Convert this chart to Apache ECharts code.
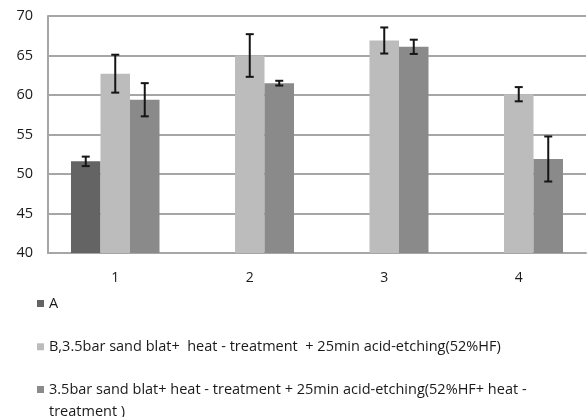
<!DOCTYPE html>
<html>
<head>
<meta charset="utf-8">
<script src="https://cdn.jsdelivr.net/npm/echarts@6/dist/echarts.min.js"></script>
<style>
  html, body { margin: 0; padding: 0; background: #fff; }
  #chart { width: 588px; height: 417px; }
</style>
</head>
<body>
<div id="chart"></div>
<script>
// Groups on the x axis
const categories = ['1', '2', '3', '4'];

// Series names (legend text)
const nameA = 'A';
const nameB = 'B,3.5bar sand blat+  heat - treatment  + 25min acid-etching(52%HF)';
const nameC = '3.5bar sand blat+ heat - treatment + 25min acid-etching(52%HF+ heat -';
const nameC2 = 'treatment )';

// Mean values (null = not measured for that group)
const valuesA = [51.6, null, null, null];
const valuesB = [62.7, 65.0, 66.9, 60.1];
const valuesC = [59.4, 61.5, 66.1, 51.9];

// Error bar half-widths (±)
const errA = [0.6, null, null, null];
const errB = [2.4, 2.7, 1.65, 0.9];
const errC = [2.1, 0.3, 0.9, 2.85];

// Y axis range
const yMin = 40, yMax = 70, yStep = 5;

const colors = ['#646464', '#bcbcbc', '#8a8a8a'];
const fontFamily = '"Open Sans", "Liberation Sans", sans-serif';
const barWidth = 29.5;

function errorData(values, errs) {
  return values.map((v, i) =>
    v == null || errs[i] == null ? [i, '-', '-'] : [i, v - errs[i], v + errs[i]]
  );
}

function errorSeries(values, errs, slot) {
  return {
    type: 'custom',
    silent: true,
    z: 10,
    data: errorData(values, errs),
    encode: { x: 0, y: [1, 2] },
    renderItem: function (params, api) {
      const lo = api.value(1), hi = api.value(2);
      if (isNaN(lo) || isNaN(hi)) return;
      const p1 = api.coord([api.value(0), hi]);
      const p2 = api.coord([api.value(0), lo]);
      const x = p1[0] + slot * barWidth;
      const cap = 4;
      const style = { stroke: '#151515', lineWidth: 2 };
      return {
        type: 'group',
        children: [
          { type: 'line', shape: { x1: x, y1: p1[1], x2: x, y2: p2[1] }, style: style },
          { type: 'line', shape: { x1: x - cap, y1: p1[1], x2: x + cap, y2: p1[1] }, style: style },
          { type: 'line', shape: { x1: x - cap, y1: p2[1], x2: x + cap, y2: p2[1] }, style: style }
        ]
      };
    }
  };
}

const chart = echarts.init(document.getElementById('chart'), null, { renderer: 'canvas' });

const legendText = { fontFamily: fontFamily, fontSize: 14.5, color: '#1a1a1a', lineHeight: 22 };

chart.setOption({
  animation: false,
  backgroundColor: '#ffffff',
  grid: { left: 48, right: 2, top: 16, height: 237, containLabel: false },
  legend: [
    {
      orient: 'vertical',
      left: 37,
      top: 292.5,
      padding: 0,
      itemWidth: 7,
      itemHeight: 7,
      itemGap: 21.3,
      icon: 'rect',
      selectedMode: false,
      data: [nameA, nameB],
      textStyle: legendText
    },
    {
      orient: 'vertical',
      left: 37,
      top: 356.5,
      padding: 0,
      itemWidth: 7,
      itemHeight: 7,
      icon: 'rect',
      selectedMode: false,
      data: [nameC],
      // leading blank line keeps the marker level with the first line of text
      formatter: function (n) { return ' \n' + n + '\n' + nameC2; },
      textStyle: legendText
    }
  ],
  xAxis: {
    type: 'category',
    data: categories,
    axisLine: { show: true, lineStyle: { color: '#a6a6a6', width: 2 } },
    axisTick: { show: false },
    axisLabel: { margin: 18, fontFamily: fontFamily, fontSize: 14, color: '#1a1a1a' },
    splitLine: { show: false }
  },
  yAxis: {
    type: 'value',
    min: yMin,
    max: yMax,
    interval: yStep,
    axisLine: { show: true, lineStyle: { color: '#a6a6a6', width: 2 } },
    axisTick: { show: false },
    axisLabel: { margin: 15, fontFamily: fontFamily, fontSize: 14.5, color: '#1a1a1a' },
    splitLine: { show: true, lineStyle: { color: '#a6a6a6', width: 2 } }
  },
  series: [
    { name: nameA, type: 'bar', data: valuesA, barWidth: barWidth, barGap: '0%', itemStyle: { color: colors[0] } },
    { name: nameB, type: 'bar', data: valuesB, barWidth: barWidth, barGap: '0%', itemStyle: { color: colors[1] } },
    { name: nameC, type: 'bar', data: valuesC, barWidth: barWidth, barGap: '0%', itemStyle: { color: colors[2] } },
    errorSeries(valuesA, errA, -1),
    errorSeries(valuesB, errB, 0),
    errorSeries(valuesC, errC, 1)
  ]
});
</script>
</body>
</html>
